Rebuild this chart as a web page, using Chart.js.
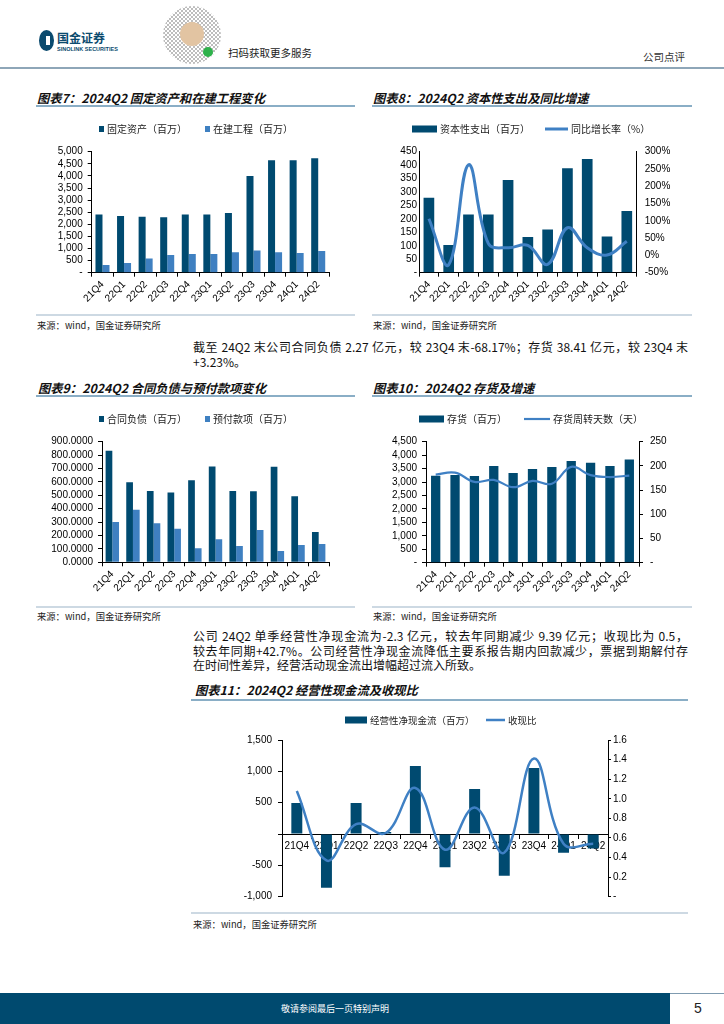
<!DOCTYPE html>
<html lang="zh-CN">
<head>
<meta charset="utf-8">
<title>公司点评</title>
<script src="https://cdn.jsdelivr.net/npm/chart.js@4.4.1/dist/chart.umd.min.js"></script>
<style>
html,body{margin:0;padding:0;background:#fff;}
#page{position:relative;width:724px;height:1024px;overflow:hidden;font-family:"Noto Sans CJK SC",sans-serif;color:#222;}
.abs{position:absolute;}
.t{position:absolute;font:italic 700 12.3px/16px "Noto Sans CJK SC";color:#111;white-space:nowrap;}
.rule{position:absolute;height:1.5px;background:#8aaec6;}
.bot{position:absolute;height:2px;background:#cdd9e3;}
.src{position:absolute;font:9.3px/12px "Noto Sans CJK SC";color:#222;white-space:nowrap;}
.p{position:absolute;left:193px;width:495px;font:12px/15px "Noto Sans CJK SC";color:#111;}
.p div{text-align:justify;text-align-last:justify;}
.p div.last{text-align-last:left;}
.box{position:absolute;}
</style>
</head>
<body>
<div id="page">
  <!-- header -->
  <div class="abs" style="left:39px;top:30px;width:15px;height:21px;border-radius:50%;background:#0b4a6e"></div>
  <div class="abs" style="left:46px;top:36px;width:4px;height:9px;background:#fff"></div>
  <div class="abs" style="left:57px;top:31px;font:700 12px/14px 'Noto Sans CJK SC';color:#0b4a6e">国金证券</div>
  <div class="abs" style="left:57px;top:46px;font:700 5.5px/7px 'Liberation Sans';color:#0b4a6e;white-space:nowrap">SINOLINK SECURITIES</div>
  <div class="abs" style="left:163px;top:6px;width:58px;height:58px;border-radius:50%;background:repeating-conic-gradient(#444 0 25%,#fff 0 50%) 0 0/4px 4px;opacity:.35"></div>
  <div class="abs" style="left:180px;top:22px;width:24px;height:24px;border-radius:50%;background:#e2c4a2"></div>
  <div class="abs" style="left:203px;top:47px;width:10px;height:10px;border-radius:50%;background:#2eb24b"></div>
  <div class="abs" style="left:228px;top:46px;font:10.5px/14px 'Noto Sans CJK SC';color:#222">扫码获取更多服务</div>
  <div class="abs" style="left:643px;top:50px;font:10.5px/14px 'Noto Sans CJK SC';color:#333">公司点评</div>
  <div class="abs" style="left:0;top:67px;width:724px;height:1.5px;background:#8ea6b8"></div>

  <!-- row 1 -->
  <div class="t" style="left:37px;top:90px">图表7：2024Q2 固定资产和在建工程变化</div>
  <div class="t" style="left:373px;top:90px">图表8：2024Q2 资本性支出及同比增速</div>
  <div class="rule" style="left:36px;top:105px;width:319px"></div>
  <div class="rule" style="left:372px;top:105px;width:320px"></div>
  <div class="box" id="c7"></div>
  <div class="box" id="c8"></div>
  <div class="bot" style="left:36px;top:314px;width:319px"></div>
  <div class="bot" style="left:372px;top:314px;width:320px"></div>
  <div class="src" style="left:37px;top:319px">来源：wind，国金证券研究所</div>
  <div class="src" style="left:373px;top:319px">来源：wind，国金证券研究所</div>

  <div class="p" style="top:339px">
    <div>截至 24Q2 末公司合同负债 2.27 亿元，较 23Q4 末-68.17%；存货 38.41 亿元，较 23Q4 末</div>
    <div class="last">+3.23%。</div>
  </div>

  <!-- row 2 -->
  <div class="t" style="left:38px;top:380px">图表9：2024Q2 合同负债与预付款项变化</div>
  <div class="t" style="left:373px;top:380px">图表10：2024Q2 存货及增速</div>
  <div class="rule" style="left:36px;top:395px;width:319px"></div>
  <div class="rule" style="left:372px;top:395px;width:320px"></div>
  <div class="box" id="c9"></div>
  <div class="box" id="c10"></div>
  <div class="bot" style="left:36px;top:606px;width:319px"></div>
  <div class="bot" style="left:372px;top:606px;width:320px"></div>
  <div class="src" style="left:37px;top:610px">来源：wind，国金证券研究所</div>
  <div class="src" style="left:373px;top:610px">来源：wind，国金证券研究所</div>

  <div class="p" style="top:629px;line-height:14.5px">
    <div>公司 24Q2 单季经营性净现金流为-2.3 亿元，较去年同期减少 9.39 亿元；收现比为 0.5，</div>
    <div>较去年同期+42.7%。公司经营性净现金流降低主要系报告期内回款减少，票据到期解付存</div>
    <div class="last">在时间性差异，经营活动现金流出增幅超过流入所致。</div>
  </div>

  <!-- row 3 -->
  <div class="t" style="left:195px;top:682px">图表11：2024Q2 经营性现金流及收现比</div>
  <div class="rule" style="left:191px;top:699px;width:497px"></div>
  <div class="box" id="c11"></div>
  <div class="bot" style="left:191px;top:912px;width:497px"></div>
  <div class="src" style="left:193px;top:918px">来源：wind，国金证券研究所</div>

  <!-- footer -->
  <div class="abs" style="left:0;top:993px;width:724px;height:1px;background:#7f9bb0"></div>
  <div class="abs" style="left:0;top:993px;width:670px;height:31px;background:#004a6f;color:#fff;font:9px/31px 'Noto Sans CJK SC';text-align:center">敬请参阅最后一页特别声明</div>
  <div class="abs" style="left:694px;top:1000px;font:14px/16px 'Liberation Sans';color:#222">5</div>
</div>

<script>
var quarters = ["21Q4", "22Q1", "22Q2", "22Q3", "22Q4", "23Q1", "23Q2", "23Q3", "23Q4", "24Q1", "24Q2"];

// 图表7
var fixedAssets = [2400, 2340, 2315, 2290, 2410, 2410, 2465, 3995, 4645, 4645, 4725];
var constructionInProgress = [315, 400, 590, 730, 770, 770, 840, 920, 840, 815, 895];
// 图表8
var capex = [279, 103, 216, 216, 345, 133, 161, 388, 423, 135, 229];
var capexYoY = [106, -27, 262, 35, 22, 29, -26, 80, 22, 1, 41];
// 图表9
var contractLiabilities = [833, 597, 532, 520, 612, 714, 532, 530, 713, 492, 227];
var prepayments = [301, 393, 291, 251, 104, 172, 122, 241, 85, 129, 137];
// 图表10
var inventory = [3235, 3260, 3220, 3595, 3335, 3485, 3555, 3780, 3720, 3595, 3841];
var inventoryDays = [182, 186, 167, 171, 156, 169, 163, 198, 181, 177, 180];
// 图表11
var operatingCashFlow = [494, -856, 494, 32, 1085, -532, 718, -665, 1053, -298, -230];
var cashRatio = [1.08, 0.37, 0.74, 0.65, 1.11, 0.48, 0.91, 0.45, 1.41, 0.54, 0.54];

var DARK = "#004a70";
var MID = "#3f80c1";
var LINE = "#3f80c4";
var NUM = "'Liberation Sans', Arial, sans-serif";
var CJK = "'Noto Sans CJK SC', sans-serif";

// legend drawn at fixed spots, like the report
var keyPlugin = {
  id: "key",
  afterDraw: function (chart, args, o) {
    if (!o.items) return;
    var ctx = chart.ctx;
    ctx.save();
    ctx.font = (o.size || 10) + "px " + CJK;
    ctx.textBaseline = "middle";
    chart.data.datasets.forEach(function (ds, i) {
      var it = o.items[i];
      var x = it.x - o.left, y = o.y - o.top;
      if (ds.type === "line") {
        ctx.strokeStyle = ds.borderColor;
        ctx.lineWidth = ds.borderWidth;
        ctx.beginPath();
        ctx.moveTo(x, y);
        ctx.lineTo(x + it.w, y);
        ctx.stroke();
      } else {
        ctx.fillStyle = ds.backgroundColor;
        ctx.fillRect(x, y - it.h / 2, it.w, it.h);
      }
      ctx.fillStyle = "#222";
      ctx.fillText(ds.label, x + it.w + 3, y + 0.5);
    });
    ctx.restore();
  }
};

var xAxis = function (h, rot, extra) {
  var ax = {
    type: "category",
    offset: true,
    grid: { display: true, drawOnChartArea: false, offset: true, tickLength: 4, color: "#000" },
    border: { color: "#000", width: 1 },
    ticks: { font: { family: NUM, size: 10 }, color: "#000", autoSkip: false, minRotation: rot, maxRotation: rot, padding: 2 },
    afterFit: function (s) { if (h) s.height = h; }
  };
  return Object.assign(ax, extra || {});
};

var yAxis = function (pos, w, min, max, step, fmt, tick, pad) {
  return {
    position: pos,
    min: min,
    max: max,
    grid: { drawOnChartArea: false, drawTicks: tick > 0, tickLength: tick, color: "#000" },
    border: { color: "#000", width: 1 },
    ticks: { stepSize: step, autoSkip: false, callback: fmt, font: { family: NUM, size: 10 }, color: "#000", padding: pad },
    afterFit: function (s) { s.width = w; }
  };
};

var thousands = function (v) { return v === 0 ? "-" : v.toLocaleString("en-US"); };

// box = [left, top, width, height], plot = [left, top, right, bottom] (page px)
var make_chart = function (id, box, plot, datasets, scales, key) {
  var wrap = document.getElementById(id);
  wrap.style.left = box[0] + "px";
  wrap.style.top = box[1] + "px";
  wrap.style.width = box[2] + "px";
  wrap.style.height = box[3] + "px";
  var canvas = document.createElement("canvas");
  wrap.appendChild(canvas);
  var floatingX = typeof scales.x.position === "object";
  return new Chart(canvas, {
    type: "bar",
    data: { labels: quarters, datasets: datasets },
    options: {
      responsive: true,
      maintainAspectRatio: false,
      animation: false,
      layout: {
        padding: {
          top: plot[1] - box[1],
          left: 0,
          right: scales.y1 ? 0 : box[0] + box[2] - plot[2],
          bottom: floatingX ? box[1] + box[3] - plot[3] : 0
        }
      },
      plugins: {
        legend: { display: false },
        tooltip: { enabled: false },
        key: Object.assign({ left: box[0], top: box[1] }, key)
      },
      scales: scales
    },
    plugins: [keyPlugin]
  });
};

// 图表7
(function () {
  var box = [30, 110, 325, 200], plot = [91.7, 151.7, 329, 272.7];
  make_chart("c7", box, plot, [
    { label: "固定资产（百万）", data: fixedAssets, backgroundColor: DARK, categoryPercentage: 0.65, barPercentage: 1 },
    { label: "在建工程（百万）", data: constructionInProgress, backgroundColor: MID, categoryPercentage: 0.65, barPercentage: 1 }
  ], {
    x: xAxis(box[1] + box[3] - plot[3], 45),
    y: yAxis("left", plot[0] - box[0], 0, 5000, 500, thousands, 4, 5)
  }, { y: 129, items: [{ x: 99, w: 5, h: 6 }, { x: 205, w: 5, h: 6 }] });
})();

// 图表8
(function () {
  var box = [365, 110, 330, 200], plot = [419, 151.7, 636.7, 272.7];
  make_chart("c8", box, plot, [
    { label: "资本性支出（百万）", data: capex, backgroundColor: DARK, categoryPercentage: 0.54, barPercentage: 1, order: 1 },
    { type: "line", label: "同比增长率（%）", data: capexYoY, yAxisID: "y1", borderColor: LINE, borderWidth: 3, tension: 0.4, pointRadius: 0, order: 0 }
  ], {
    x: xAxis(box[1] + box[3] - plot[3], 45),
    y: yAxis("left", plot[0] - box[0], 0, 450, 50, function (v) { return v === 0 ? "-" : String(v); }, 0, 2),
    y1: yAxis("right", box[0] + box[2] - plot[2], -50, 300, 50, function (v) { return v + "%"; }, 0, 8)
  }, { y: 129, items: [{ x: 412, w: 25, h: 7 }, { x: 545, w: 23 }] });
})();

// 图表9
(function () {
  var box = [30, 400, 325, 205], plot = [102, 441.7, 329, 562.3];
  make_chart("c9", box, plot, [
    { label: "合同负债（百万）", data: contractLiabilities, backgroundColor: DARK, categoryPercentage: 0.65, barPercentage: 1 },
    { label: "预付款项（百万）", data: prepayments, backgroundColor: MID, categoryPercentage: 0.65, barPercentage: 1 }
  ], {
    x: xAxis(box[1] + box[3] - plot[3], 45),
    y: yAxis("left", plot[0] - box[0], 0, 900, 100, function (v) { return v.toFixed(4); }, 4, 5)
  }, { y: 419, items: [{ x: 99, w: 5, h: 6 }, { x: 205, w: 5, h: 6 }] });
})();

// 图表10
(function () {
  var box = [365, 400, 330, 205], plot = [426, 441.7, 639, 562.7];
  make_chart("c10", box, plot, [
    { label: "存货（百万）", data: inventory, backgroundColor: DARK, categoryPercentage: 0.48, barPercentage: 1, order: 1 },
    { type: "line", label: "存货周转天数（天）", data: inventoryDays, yAxisID: "y1", borderColor: LINE, borderWidth: 2.2, tension: 0.4, pointRadius: 0, order: 0 }
  ], {
    x: xAxis(box[1] + box[3] - plot[3], 45),
    y: yAxis("left", plot[0] - box[0], 0, 4500, 500, thousands, 4, 5),
    y1: yAxis("right", box[0] + box[2] - plot[2], 0, 250, 50, function (v) { return v === 0 ? "-" : String(v); }, 4, 7)
  }, { y: 419, items: [{ x: 419, w: 25, h: 7 }, { x: 524, w: 26 }] });
})();

// 图表11
(function () {
  var box = [190, 703, 440, 207], plot = [282, 740, 608, 896.7];
  make_chart("c11", box, plot, [
    { label: "经营性净现金流（百万）", data: operatingCashFlow, backgroundColor: DARK, categoryPercentage: 0.37, barPercentage: 1, order: 1 },
    { type: "line", label: "收现比", data: cashRatio, yAxisID: "y1", borderColor: LINE, borderWidth: 2.5, tension: 0.4, pointRadius: 0, order: 0 }
  ], {
    x: xAxis(0, 0, { position: { y: 0 } }),
    y: yAxis("left", plot[0] - box[0], -1000, 1500, 500, function (v) { return v === 0 ? "" : v.toLocaleString("en-US"); }, 4, 6),
    y1: yAxis("right", box[0] + box[2] - plot[2], 0, 1.6, 0.2, function (v) { return v === 0 ? "-" : v.toFixed(1); }, 3, 2)
  }, { y: 720, size: 9.5, items: [{ x: 345, w: 22, h: 7 }, { x: 486, w: 19 }] });
})();
</script>
</body>
</html>
